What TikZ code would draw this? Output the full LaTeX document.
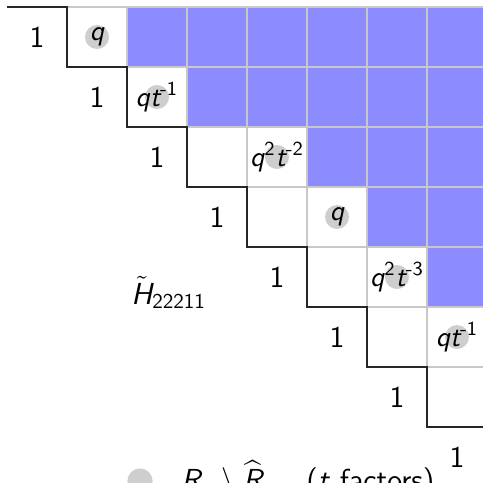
\documentclass[tikz,border=0pt]{standalone}
\usepackage{xcolor}
\usepackage{amsmath}
\definecolor{cellblue}{RGB}{140,140,255}
\definecolor{gridgray}{RGB}{200,200,200}
\definecolor{dotgray}{RGB}{206,206,206}
\begin{document}
\begin{tikzpicture}[x=0.016667cm,y=-0.016667cm,
  one/.style={font=\fontsize{14.4}{16}\selectfont\sffamily, inner sep=0pt},
  lab/.style={font=\fontsize{13.5}{15}\selectfont\sffamily, inner sep=0pt},
  dot/.style={circle, fill=dotgray, minimum size=0.4cm, inner sep=0pt},
  gridline/.style={draw=gridgray, line width=0.6pt},
  stair/.style={draw=black!85, line width=0.6pt}]
\useasboundingbox (0,0) rectangle (483,483);
% blue cells
\foreach \i/\j in {0/2,0/3,0/4,0/5,0/6,0/7,1/3,1/4,1/5,1/6,1/7,2/5,2/6,2/7,3/6,3/7,4/7}
  \fill[cellblue] (7+60*\j,7+60*\i) rectangle +(60,60);
% grid of upper cells
\foreach \i in {0,...,6}{
  \pgfmathtruncatemacro\s{\i+1}
  \foreach \j in {\s,...,7}
    \draw[gridline] (7+60*\j,7+60*\i) rectangle +(60,60);
}
% staircase
\draw[stair] (7,7) -- (67,7) -- (67,67) -- (127,67) -- (127,127) -- (187,127) -- (187,187)
  -- (247,187) -- (247,247) -- (307,247) -- (307,307) -- (367,307) -- (367,367)
  -- (427,367) -- (427,427) -- (487,427) -- (487,487);
% diagonal ones
\foreach \i in {0,...,7}
  \node[one] (d\i) at (37+60*\i,37+60*\i) {1};
% labelled cells
\node[dot] (c01) at (97,37) {};
\node[lab] (l01) at (97,37) {\itshape q};
\node[dot] (c12) at (157,97) {};
\node[lab] (l12) at (157,97) {{\itshape qt}\textsuperscript{-1}};
\node[dot] (c24) at (277,157) {};
\node[lab] (l24) at (277,157) {{\itshape q}\textsuperscript{2}{\itshape t}\textsuperscript{-2}};
\node[dot] (c35) at (337,217) {};
\node[lab] (l35) at (337,217) {\itshape q};
\node[dot] (c46) at (397,277) {};
\node[lab] (l46) at (397,277) {{\itshape q}\textsuperscript{2}{\itshape t}\textsuperscript{-3}};
\node[dot] (c57) at (457,337) {};
\node[lab] (l57) at (457,337) {{\itshape qt}\textsuperscript{-1}};
% H label
\node[one, anchor=base west] (hlab) at (131,304) {$\tilde{\textsf{\itshape H}}_{\mathsf{22211}}$};
% legend
\node[dot, minimum size=0.42cm] (legdot) at (140,481) {};
\node[one, anchor=base west] (leg) at (181,490)
  {$\textsf{\itshape R}_{\mu}\setminus\widehat{\textsf{\itshape R}}_{\mu}$\quad(\textit{t} factors)};
\end{tikzpicture}
\end{document}
